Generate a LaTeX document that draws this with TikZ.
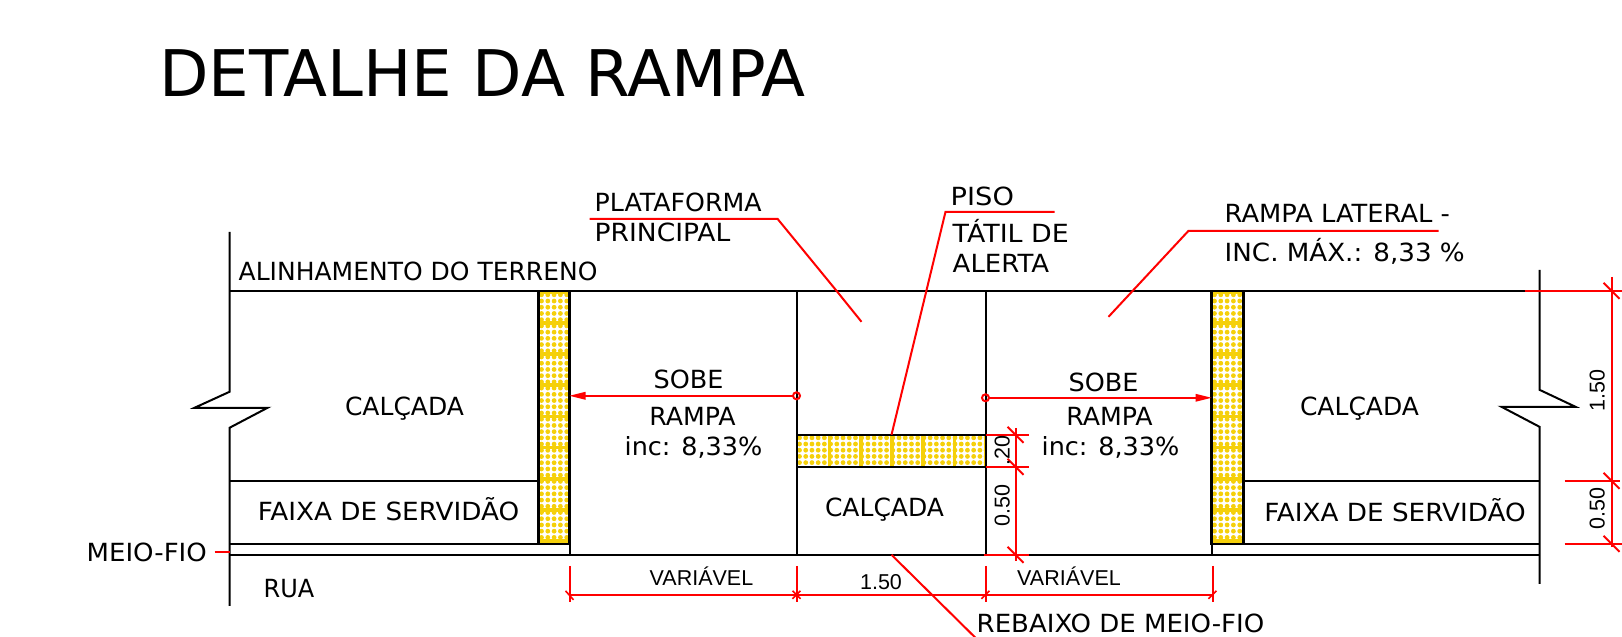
\documentclass[tikz,border=0pt]{standalone}
\usepackage{fontspec}
\setmainfont{DejaVu Sans}
\newfontfamily\dimfont{Liberation Sans}
\definecolor{tactile}{RGB}{245,208,10}
\tikzset{
  wall/.style={draw=black,line width=2pt,line join=miter},
  frame/.style={draw=black,line width=2.2pt},
  redline/.style={draw=red,line width=2pt},
  redthin/.style={draw=red,line width=1.6pt},
  label/.style={inner sep=0pt,font=\fontsize{25}{25}\selectfont},
  llabel/.style={label,anchor=base west},
  clabel/.style={label,anchor=base},
  wide/.style={xscale=#1,transform shape},
  dimh/.style={inner sep=0pt,anchor=base,font=\dimfont\fontsize{21.5}{22}\selectfont},
  dimv/.style={inner sep=0pt,anchor=base,rotate=90,font=\dimfont\fontsize{21.5}{22}\selectfont},
}
\begin{document}
\begin{tikzpicture}[x=1pt,y=-1pt]
\useasboundingbox (0,0) rectangle (1622,637);
\clip (0,0) rectangle (1622,637);
\begin{scope}[shift={(0.5,0.8)}]
% tactile strips
\begin{scope}
  \clip (538,291) rectangle (569,543);
  \foreach \i in {0,...,40} \foreach \x in {541,547.3,553.6,559.9,566.2}
    \fill[tactile] (\x,{294+6.22*\i}) circle (2.4);
  \foreach \i in {0,...,7} \fill[tactile] (538,{322+31.2*\i-1.8}) rectangle (569,{322+31.2*\i+1.8});
  \fill[tactile] (538,290) rectangle (569,293);
\end{scope}
\begin{scope}
  \clip (1211,291) rectangle (1243,543);
  \foreach \i in {0,...,40} \foreach \x in {1214,1220.3,1226.6,1232.9,1239.2}
    \fill[tactile] (\x,{294+6.22*\i}) circle (2.4);
  \foreach \i in {0,...,7} \fill[tactile] (1211,{322+31.2*\i-1.8}) rectangle (1243,{322+31.2*\i+1.8});
  \fill[tactile] (1211,290) rectangle (1243,293);
\end{scope}
\begin{scope}
  \clip (796,434) rectangle (985,466);
  \foreach \i in {0,...,30} \foreach \y in {437,443.2,449.4,455.6,461.8}
    \fill[tactile] ({799+6.22*\i},\y) circle (2.4);
  \foreach \i in {0,...,5} \fill[tactile] ({829+31.2*\i-1.8},434) rectangle ({829+31.2*\i+1.8},466);
\end{scope}
% base lines
\draw[wall] (229,231) -- (229,391) -- (194,407) -- (267,407) -- (229,427) -- (229,605);
\draw[wall] (1539,269) -- (1539,389) -- (1575,406) -- (1501,406) -- (1539,426) -- (1539,583);
\draw[wall] (229,290) -- (1539,290);
\draw[wall] (229,554) -- (1539,554);
\draw[wall] (229,480) -- (538,480) (1243,480) -- (1539,480);
\draw[wall] (229,543) -- (538,543) (1243,543) -- (1539,543);
\draw[wall] (569,290) -- (569,554) (796,290) -- (796,554) (985,290) -- (985,554) (1211,290) -- (1211,554);
% strip frames
\draw[frame] (538,290) -- (538,543) -- (569,543) (569,290) -- (569,543);
\draw[frame] (1211,290) -- (1211,543) -- (1243,543) -- (1243,290);
\draw[frame] (796,434) -- (985,434) (796,466) -- (985,466);
% slope arrows
\draw[redline] (796,395) circle (3.5);
\draw[redline] (985,397) circle (3.5);
\fill[red] (569,395) -- (585,391) -- (585,399) -- cycle;
\fill[red] (1211,397) -- (1195,393) -- (1195,401) -- cycle;
\draw[redline] (792.5,395) -- (580,395);
\draw[redline] (988.5,397) -- (1200,397);
% leaders
\draw[redline] (589,218) -- (777,218) -- (836,290) -- (861,321);
\draw[redline] (1054,211) -- (945,211) -- (891,434);
\draw[redline] (1438,230) -- (1188,230) -- (1108,316);
\draw[redline] (891,554) -- (975,637);
\draw[redline] (214,551) -- (229,551);
% dimensions: horizontal
\draw[redline] (569,594) -- (1212,594);
\foreach \x in {569,796,985,1212} \draw[redline] (\x,565) -- (\x,601);
\draw[redthin] (565,590) -- (573,599) (792,590) -- (800,598) (792,598) -- (800,590) (981,598) -- (989,590) (1208,598) -- (1216,590);
% dimensions: ramp bar
\draw[redline] (985,434) -- (1028,434) (985,466) -- (1028,466) (983,554) -- (1028,554);
\draw[redline] (1015,427) -- (1015,560);
\draw[redline] (1007,426) -- (1023,442) (1007,458) -- (1023,474) (1007,546) -- (1023,562);
% dimensions: right
\draw[redline] (1524,290) -- (1622,290) (1564,480) -- (1619,480) (1564,543) -- (1622,543);
\draw[redline] (1611,276) -- (1611,546);
\draw[redline] (1603,282) -- (1619,298) (1603,472) -- (1619,488) (1603,535) -- (1619,551);
% texts
\node[llabel] (alin) at (238,280) {ALINHAMENTO DO TERRENO};
\node[llabel,wide=1.01] (plat1) at (594,211) {PLATAFORMA};
\node[llabel,wide=1.06] (plat2) at (594,241) {PRINCIPAL};
\node[llabel,wide=1.09] (piso1) at (950,205) {PISO};
\node[llabel,wide=1.075] (piso2) at (952,242) {TÁTIL DE};
\node[llabel,wide=1.04] (piso3) at (952,272) {ALERTA};
\node[llabel,wide=1.03] (rl1) at (1224,222) {RAMPA LATERAL -};
\node[llabel,wide=1.046] (rl2) at (1224,261) {INC. MÁX.: 8,33 \%};
\node[clabel] (cal1) at (404,415) {CALÇADA};
\node[clabel] (cal2) at (884,516) {CALÇADA};
\node[clabel] (cal3) at (1359,415) {CALÇADA};
\node[clabel,wide=1.02] (sobe1) at (688,388) {SOBE};
\node[clabel,wide=1.01] (ramp1) at (692,425) {RAMPA};
\node[clabel,wide=1.02] (inc1) at (693,455) {inc: 8,33\%};
\node[clabel,wide=1.02] (sobe2) at (1103,391) {SOBE};
\node[clabel,wide=1.01] (ramp2) at (1109,425) {RAMPA};
\node[clabel,wide=1.02] (inc2) at (1110,455) {inc: 8,33\%};
\node[clabel,wide=1.05] (fx1) at (388,520) {FAIXA DE SERVIDÃO};
\node[clabel,wide=1.05] (fx2) at (1394.5,521) {FAIXA DE SERVIDÃO};
\node[llabel,wide=1.04] (meio) at (86,561) {MEIO-FIO};
\node[llabel,wide=0.96] (rua) at (263,597) {RUA};
\node[llabel,wide=1.04] (reb) at (976,632) {REBAIXO DE MEIO-FIO};
\node[dimh] (v1) at (701,585) {VARIÁVEL};
\node[dimh] (v2) at (1068.5,585) {VARIÁVEL};
\node[dimh] (d150) at (880.5,589) {1.50};
\node[dimv] (d20) at (1009,450) {.20};
\node[dimv] (d50) at (1009,505) {0.50};
\node[dimv] (r150) at (1604,390) {1.50};
\node[dimv] (r50) at (1604,508) {0.50};
\end{scope}
\node[inner sep=0pt,anchor=base west,font=\fontsize{64.3}{70}\selectfont] (title) at (159,96) {DETALHE DA RAMPA};
\end{tikzpicture}
\end{document}
